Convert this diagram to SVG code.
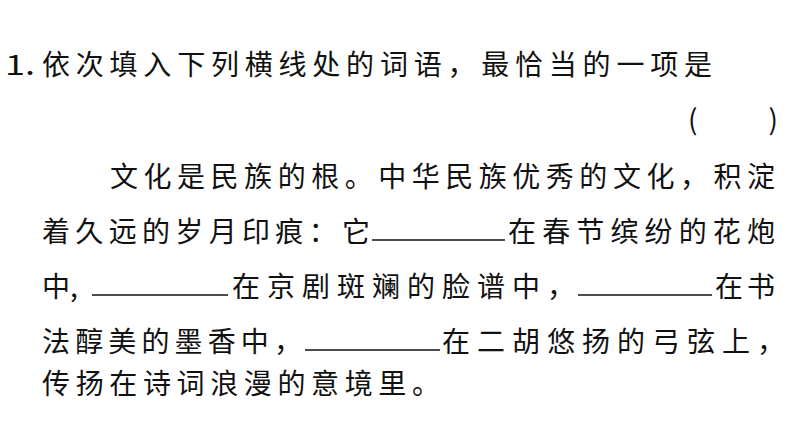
<svg xmlns="http://www.w3.org/2000/svg" width="794" height="447" viewBox="0 0 794 447">
<style>
text{font-family:"Noto Sans CJK SC","Noto Sans",sans-serif;font-size:28px;fill:#111;}
.b{stroke:#111;stroke-width:1.5;}
</style>
<rect width="794" height="447" fill="#fff"/>
<text x="5" y="75" textLength="30" lengthAdjust="spacingAndGlyphs">1.</text>
<text x="42" y="75" textLength="670">依次填入下列横线处的词语，最恰当的一项是</text>
<text x="688" y="130" textLength="90" xml:space="preserve">(       )</text>
<text x="110" y="187" textLength="665">文化是民族的根。中华民族优秀的文化，积淀</text>
<text x="42" y="242" textLength="328">着久远的岁月印痕：它</text>
<line class="b" x1="372" y1="240" x2="505" y2="240"/>
<text x="508" y="242" textLength="267">在春节缤纷的花炮</text>
<text x="42" y="297">中,</text>
<line class="b" x1="92" y1="295" x2="228" y2="295"/>
<text x="232" y="297" textLength="343">在京剧斑斓的脸谱中，</text>
<line class="b" x1="578" y1="295" x2="712" y2="295"/>
<text x="715" y="297" textLength="60">在书</text>
<text x="42" y="352" textLength="260">法醇美的墨香中，</text>
<line class="b" x1="305" y1="350" x2="440" y2="350"/>
<text x="442" y="352" textLength="343">在二胡悠扬的弓弦上，</text>
<text x="42" y="394" textLength="398">传扬在诗词浪漫的意境里。</text>
</svg>
